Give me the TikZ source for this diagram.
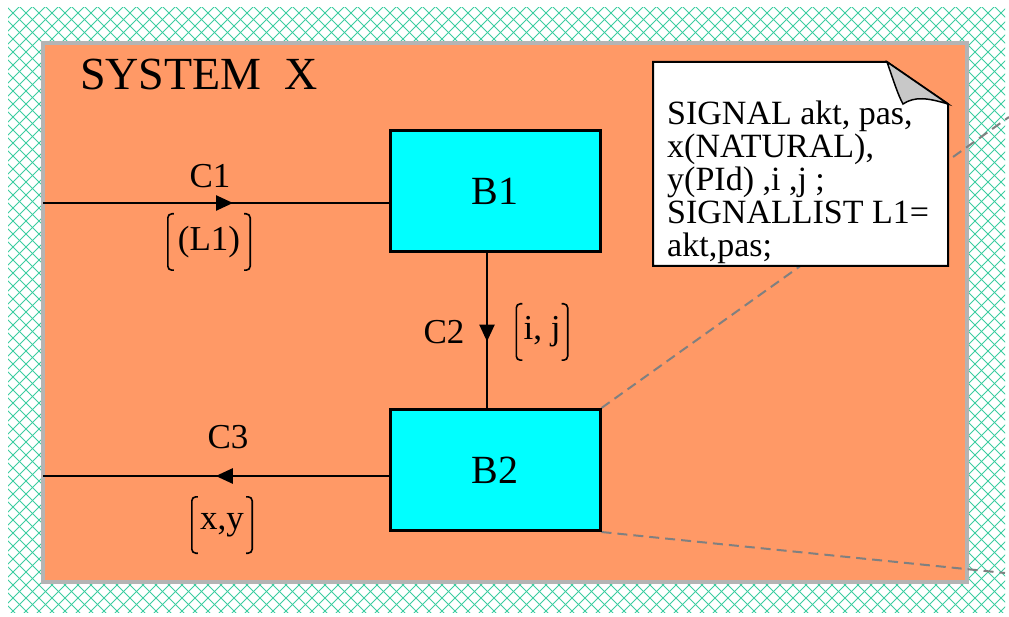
\documentclass[tikz,border=0pt]{standalone}
\usepackage{fontspec}
\setmainfont{Liberation Serif}
\usetikzlibrary{arrows.meta,decorations.markings,backgrounds}

\definecolor{sysfill}{RGB}{255,153,102}
\definecolor{sysrim}{RGB}{180,180,180}
\definecolor{hatchgreen}{RGB}{60,205,160}
\definecolor{blockfill}{RGB}{0,255,255}
\definecolor{foldgray}{RGB}{200,200,200}

% square brackets round a signal list node
\newcommand{\sigbrackets}[1]{%
  \draw[bracket] ([xshift=6pt]#1.north west) -- (#1.north west) -- (#1.south west) -- ([xshift=6pt]#1.south west);
  \draw[bracket] ([xshift=-6pt]#1.north east) -- (#1.north east) -- (#1.south east) -- ([xshift=-6pt]#1.south east);}

\begin{document}
\begin{tikzpicture}[x=1pt,y=-1pt,
    block/.style={draw, line width=3pt, fill=blockfill, minimum width=210pt,
                  minimum height=121pt, font=\fontsize{40}{40}\selectfont},
    chan/.style={line width=2.4pt, postaction={decorate},
                 decoration={markings, mark=at position #1 with {\arrow{Triangle[length=17pt,width=15pt]}}}},
    lbl/.style={font=\fontsize{35}{35}\selectfont, inner sep=0pt},
    sigset/.style={lbl, minimum height=56pt},
    bracket/.style={line width=1.6pt, rounded corners=4pt},
    zoomline/.style={dash pattern=on 10pt off 6pt, gray, line width=2pt}
]
\useasboundingbox (0,0) rectangle (1009,617);

% Blocks
\node[block] (b1) at (495,191.5) {B1};
\node[block] (b2) at (495,470) {B2};

% Channel labels
\node[lbl] (c1) at (210,176) {C1};
\node[sigset, minimum width=82pt] (l1) at (209,242) {(L1)};
\sigbrackets{l1}
\node[lbl] (c2) at (444,332) {C2};
\node[sigset, minimum width=51pt] (ij) at (542,332) {i, j};
\sigbrackets{ij}
\node[lbl] (c3) at (228,437) {C3};
\node[sigset, minimum width=60pt] (xy) at (222,525) {x,y};
\sigbrackets{xy}

% Channels
\coordinate (c1in) at (43,203);
\coordinate (c3out) at (43,476);
\draw[chan=0.55] (c1in) -- (c1in -| b1.west);
\draw[chan=0.57] ([xshift=-8pt]b1.south) -- ([xshift=-8pt]b2.north);
\draw[chan=0.50] (c3out -| b2.west) -- (c3out);

% System name
\node[lbl, font=\fontsize{46}{46}\selectfont, anchor=base west] (title) at (80,90) {SYSTEM\ \ X};

% Declaration note
\draw[line width=2pt, fill=white] (653,62) -- (887,62) -- (948,104) -- (948,266) -- (653,266) -- cycle;
\draw[line width=1.5pt, fill=foldgray] (887,62) .. controls (894,82) and (898,95) .. (903,104)
  .. controls (915,96) and (928,98) .. (948,104) -- cycle;
\node[lbl, font=\fontsize{34}{33}\selectfont, align=left, anchor=north west] (decl) at (667,101)
  {SIGNAL akt, pas,\\x(NATURAL),\\y(PId) ,i ,j ;\\SIGNALLIST L1=\\akt,pas;};

\begin{scope}[on background layer]
  \fill[white] (0,0) rectangle (1009,617);
  \begin{scope}
    \clip (8,8) rectangle (1005,612);
    \foreach \k in {-624,-611,...,1633} {
      \draw[hatchgreen, line width=1pt] (\k,0) -- ++(620,620);
      \draw[hatchgreen, line width=1pt] (\k,0) -- ++(-620,620);
    }
  \end{scope}
  \draw[line width=4pt, draw=sysrim, fill=sysfill] (43,43) rectangle (967,582);
  % zoom lines from B2
  \draw[zoomline] (b2.north east) -- (1009,117);
  \draw[zoomline] (b2.south east) -- (1005,573);
\end{scope}
\end{tikzpicture}
\end{document}
